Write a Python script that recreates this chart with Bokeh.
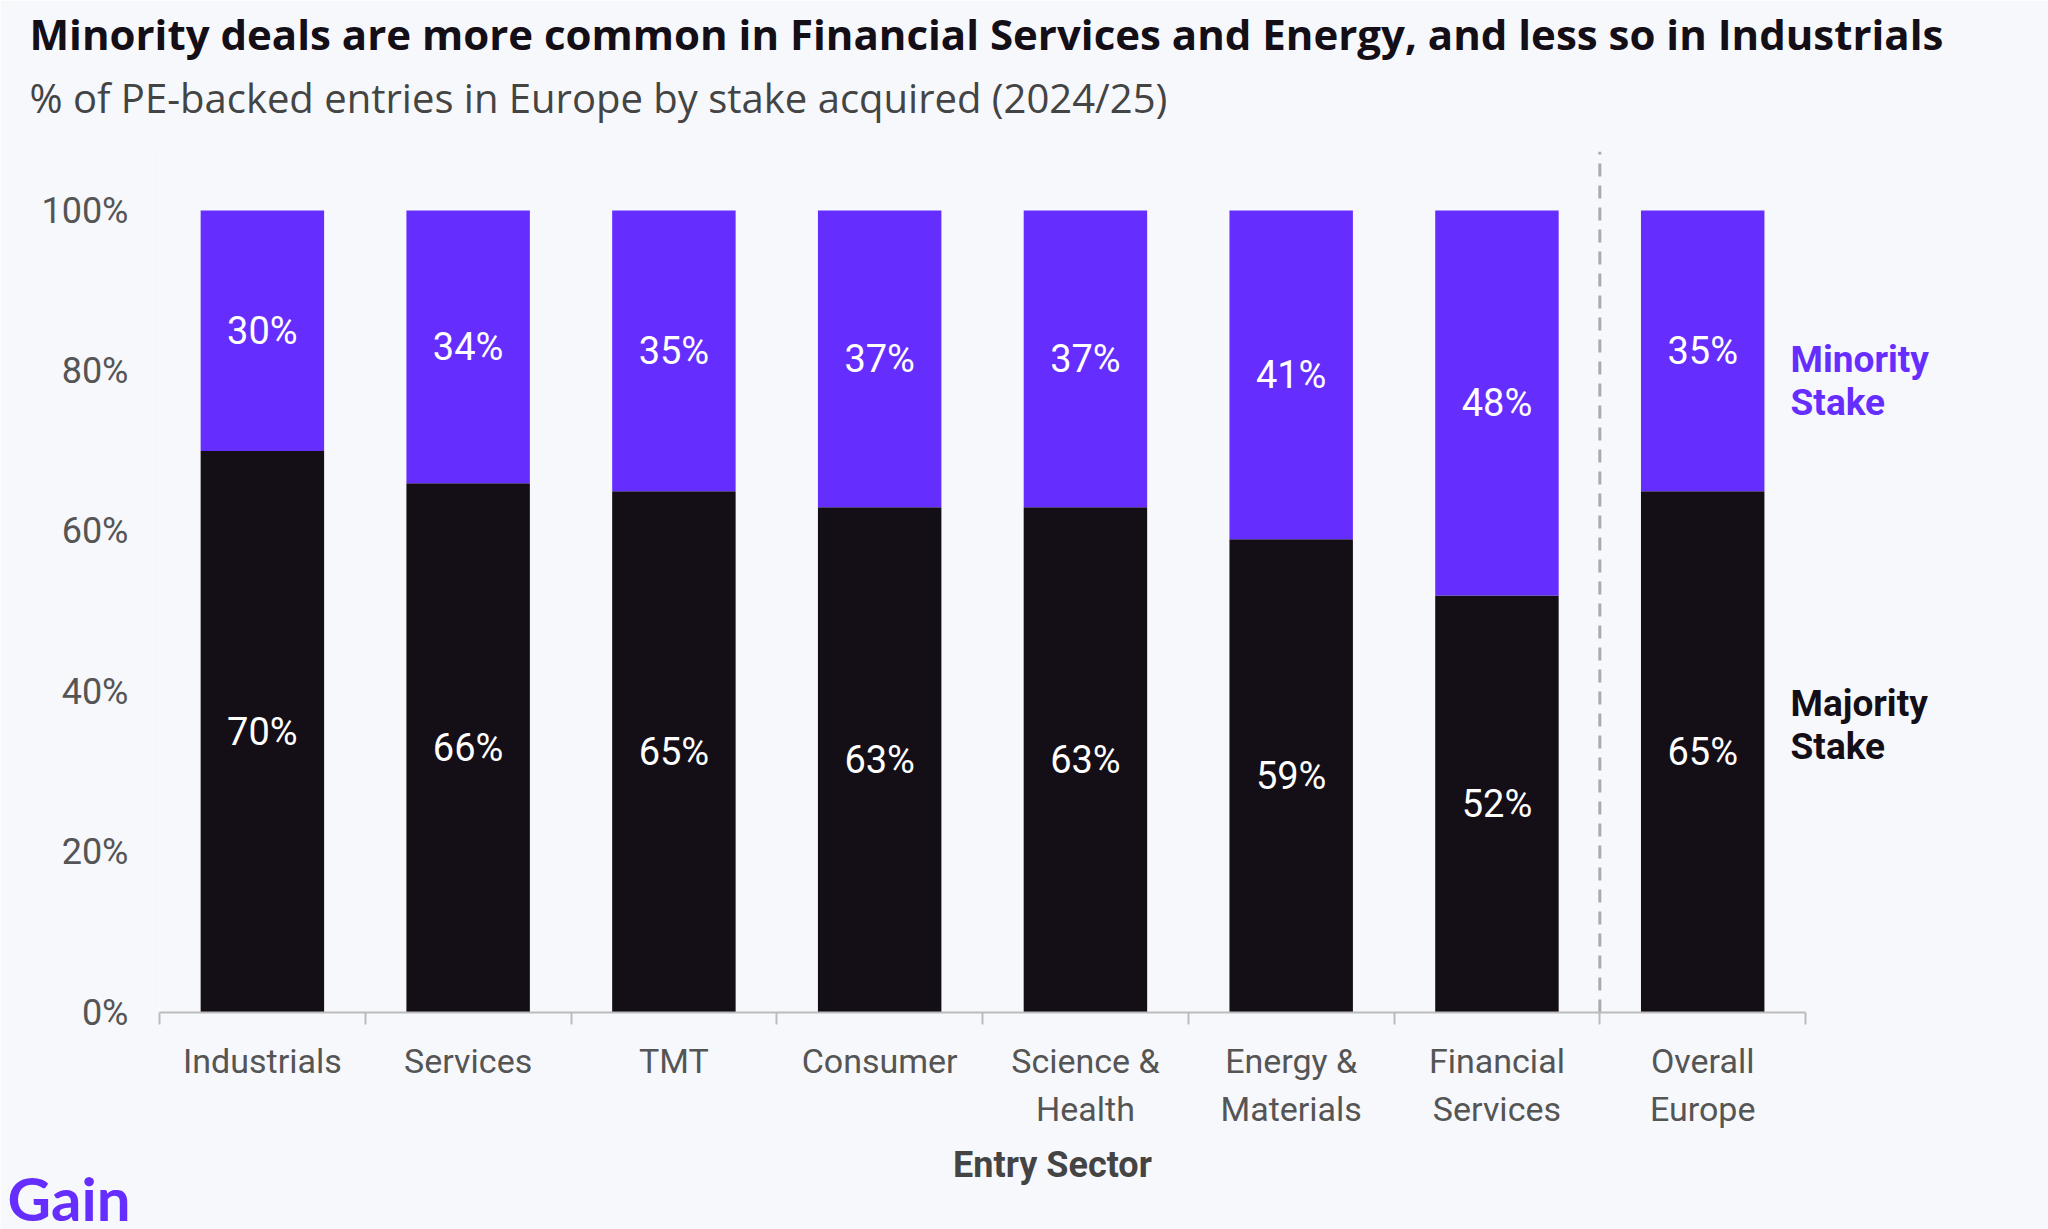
from bokeh.plotting import figure
from bokeh.models import (ColumnDataSource, Range1d, LinearAxis, FixedTicker,
                          NumeralTickFormatter, Label, Title)
from bokeh.embed import file_html
from bokeh.resources import INLINE

# ---- data ----
sectors = ["Industrials", "Services", "TMT", "Consumer", "Science &\nHealth",
           "Energy &\nMaterials", "Financial\nServices", "Overall\nEurope"]
majority_pct = [70, 66, 65, 63, 63, 59, 52, 65]
minority_pct = [30, 34, 35, 37, 37, 41, 48, 35]
y_ticks = [0, 0.2, 0.4, 0.6, 0.8, 1.0]

title_text = "Minority deals are more common in Financial Services and Energy, and less so in Industrials"
subtitle_text = "% of PE-backed entries in Europe by stake acquired (2024/25)"
x_title = "Entry Sector"

# ---- style ----
BG = "#F7F8FC"
PURPLE = "#652EFF"
DARK = "#140E16"
GREY_AX = "#BBBBBB"
FONT = "Roboto"
TFONT = "Open Sans"
Y_TOP = 1.0736
X_PAD_RIGHT = 0.68

n = len(sectors)
centers = [i + 0.5 for i in range(n)]
maj = [v / 100 for v in majority_pct]
mino = [v / 100 for v in minority_pct]
source = ColumnDataSource(dict(
    x=centers,
    majority=maj,
    minority=mino,
    maj_mid=[m / 2 for m in maj],
    min_mid=[m + k / 2 for m, k in zip(maj, mino)],
    maj_lbl=[f"{v}%" for v in majority_pct],
    min_lbl=[f"{v}%" for v in minority_pct],
))

p = figure(x_range=Range1d(0, n + X_PAD_RIGHT), y_range=Range1d(0, Y_TOP),
           width=2048, height=1229, output_backend="svg", toolbar_location=None,
           x_axis_location=None,
           min_border_left=159, min_border_right=103, min_border_top=151, min_border_bottom=217,
           background_fill_color=BG, border_fill_color=BG, outline_line_color=None)
p.xgrid.visible = False
p.ygrid.visible = False

# y axis
ya = p.yaxis[0]
ya.ticker = FixedTicker(ticks=y_ticks)
ya.formatter = NumeralTickFormatter(format="0%")
ya.axis_line_color = None
ya.major_tick_line_color = None
ya.minor_tick_line_color = None
ya.major_tick_out = 0
ya.major_tick_in = 0
ya.major_label_standoff = 31
ya.major_label_text_font = FONT
ya.major_label_text_font_size = "36px"
ya.major_label_text_color = "#555555"

# boundary-tick axis (line + ticks at category edges)
bx = LinearAxis(ticker=FixedTicker(ticks=list(range(n + 1))), bounds=(0, n),
                major_label_overrides={i: "" for i in range(n + 1)},
                major_label_text_font_size="0px", major_label_standoff=0,
                axis_line_color=GREY_AX, axis_line_width=2,
                major_tick_line_color=GREY_AX, major_tick_line_width=2,
                major_tick_out=12, major_tick_in=0, minor_tick_line_color=None)
p.add_layout(bx, "below")

# category label axis
cx = LinearAxis(ticker=FixedTicker(ticks=centers), bounds=(0, n),
                major_label_overrides={c: s for c, s in zip(centers, sectors)},
                axis_line_color=None, major_tick_line_color=None, major_tick_out=0, major_tick_in=0,
                minor_tick_line_color=None,
                major_label_standoff=16, major_label_text_font=FONT,
                major_label_text_font_size="34px", major_label_text_color="#555555",
                axis_label=x_title, axis_label_text_font=FONT, axis_label_text_font_size="36px",
                axis_label_text_font_style="bold", axis_label_text_color="#444444",
                axis_label_standoff=12)
p.add_layout(cx, "below")

# logo
p.add_layout(Title(text="Gain", text_font="Lato", text_font_style="bold", text_font_size="60px",
                   text_color=PURPLE, align="left", offset=-152, standoff=-58), "below")

# bars
p.vbar_stack(["majority", "minority"], x="x", width=0.6, color=[DARK, PURPLE],
             line_color=None, source=source)

# value labels
for ycol, tcol in (("maj_mid", "maj_lbl"), ("min_mid", "min_lbl")):
    p.text(x="x", y=ycol, text=tcol, source=source, text_align="center",
           text_baseline="middle", text_color="white", text_font_size="38px",
           text_font={"value": FONT})

# dashed separator before "Overall Europe"
p.segment(x0=[n - 1], x1=[n - 1], y0=[0], y1=[Y_TOP],
          line_color="#AAAAAA", line_width=3, line_dash="13 9")

# series labels to the right
p.add_layout(Label(x=n, y=maj[-1] + mino[-1] / 2, x_offset=-15, y_offset=-30,
                   text="Minority\nStake", text_font=FONT, text_font_style="bold",
                   text_font_size="37px", text_color=PURPLE, text_baseline="middle",
                   text_line_height=1.0))
p.add_layout(Label(x=n, y=maj[-1] / 2, x_offset=-15, y_offset=27,
                   text="Majority\nStake", text_font=FONT, text_font_style="bold",
                   text_font_size="37px", text_color=DARK, text_baseline="middle",
                   text_line_height=1.0))

# titles (subtitle first = closest to the frame)
p.add_layout(Title(text=subtitle_text, text_font=TFONT, text_font_style="normal",
                   text_font_size="40px", text_color="#444444", align="left",
                   offset=-130, standoff=54), "above")
p.add_layout(Title(text=title_text, text_font=TFONT, text_font_style="bold",
                   text_font_size="42px", text_color=DARK, align="left",
                   offset=-130, standoff=-42), "above")

open("out.html", "w").write(file_html(p, INLINE))
